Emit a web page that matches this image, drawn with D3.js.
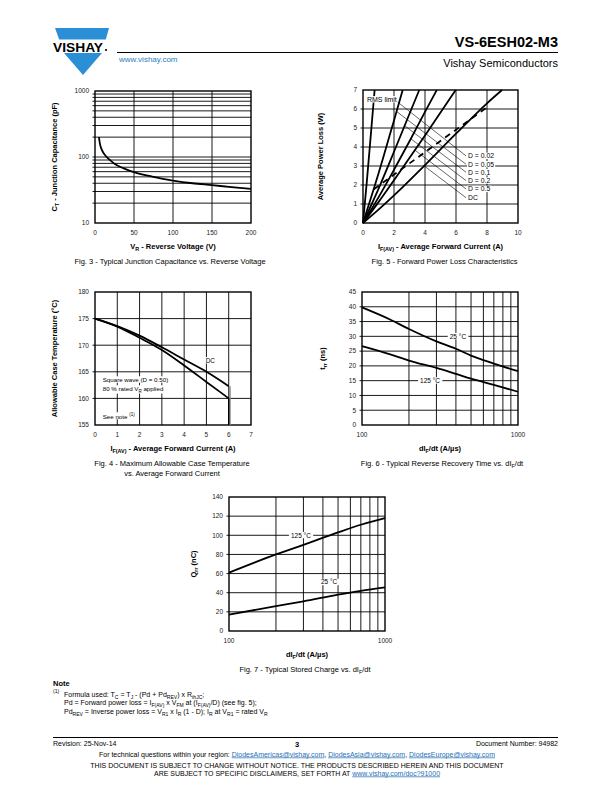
<!DOCTYPE html>
<html><head><meta charset="utf-8">
<script src="https://cdn.jsdelivr.net/npm/d3@7"></script>
<style>
body{margin:0;background:#fff}
svg{display:block}
text{font-family:"Liberation Sans",Arial,Helvetica,sans-serif}
</style>
</head><body>
<svg id="page" width="612" height="792"></svg>
<script>
// ---------------- DATA ----------------
// Fig. 3 - junction capacitance
const fig3Voltage = [5,6.5,8,10,12,15,20,25,30,40,50,75,100,125,150,175,200];
const fig3Capacitance = [200,155,135,120,110,100,88,79,73,65,59,50,44,40,37.5,35,33];
const fig3XTicks = [0,50,100,150,200];
const fig3YTicks = [10,100,1000];

// Fig. 5 - forward power loss (I in A, P in W)
const fig5Labels = ["D = 0.02","D = 0.05","D = 0.1","D = 0.2","D = 0.5","DC"];
const fig5Current = [
  [0,0.25,0.5,0.75],
  [0,1,2,2.56],
  [0,1,2,3,3.63],
  [0,1,2,3,4,4.76],
  [0,1,2,4,5.98],
  [0,1,2,4,6,8,8.97]
];
const fig5Power = [
  [0,2.2,4.6,7],
  [0,2.6,5.4,7],
  [0,1.8,3.75,5.75,7],
  [0,1.35,2.8,4.3,5.85,7],
  [0,1.1,2.25,4.6,7],
  [0,0.7,1.45,3.05,4.7,6.3,7]
];
const fig5RmsCurrent = [0.7,8.1];
const fig5RmsPower = [1.78,6.15];
const fig5LeaderCurrent = [2.15,2.149,2.664,3.036,3.30,3.893];
const fig5LeaderPower = [6.42,5.877,5.137,4.464,3.863,3.038];
const fig5LabelPower = [3.53,3.09,2.67,2.23,1.79,1.33];
const fig5XTicks = [0,2,4,6,8,10];
const fig5YTicks = [0,1,2,3,4,5,6,7];

// Fig. 4 - allowable case temperature
const fig4Current = [0,1,2,3,4,5,6];
const fig4TempDC = [175,173.6,171.8,169.6,167.3,165,162.3];
const fig4TempSquare = [175,173.5,171.4,169.1,166.2,163.1,160];
const fig4XTicks = [0,1,2,3,4,5,6,7];
const fig4YTicks = [155,160,165,170,175,180];

// Fig. 6 - reverse recovery time
const fig6Didt = [100,150,200,300,400,500,700,1000];
const fig6Trr25 = [39.8,35.8,32.5,28.3,25.8,23.5,20.8,18.2];
const fig6Trr125 = [26.7,24.0,21.8,19.3,17.3,15.7,13.6,11.25];
const fig6YTicks = [0,5,10,15,20,25,30,35,40,45];

// Fig. 7 - stored charge
const fig7Didt = [100,200,300,500,700,1000];
const fig7Qrr125 = [61,80,90,103,111,118];
const fig7Qrr25 = [17,26,31,38,42,45.5];
const fig7YTicks = [0,20,40,60,80,100,120,140];

const logXTicks = [100,1000];
const logGrid = [200,300,400,500,600,700,800,900];

// ---------------- HELPERS ----------------
const svg = d3.select('#page');

function rich(parent, x, y, parts, o) {
  const t = parent.append('text').attr('x', x).attr('y', y)
    .attr('font-size', o.size).attr('font-weight', o.bold ? 'bold' : 'normal')
    .attr('text-anchor', o.anchor || 'start').attr('fill', o.fill || '#000');
  if (o.rotate) t.attr('transform', `rotate(-90,${x},${y})`);
  let shift = 0;
  parts.forEach(p => {
    const s = p[0], m = p[1];
    const target = m === 'sub' ? o.size * 0.3 : m === 'sup' ? -o.size * 0.4 : 0;
    const ts = t.append('tspan').attr('dy', (target - shift).toFixed(2)).text(s);
    if (m) ts.attr('font-size', (o.size * 0.72).toFixed(2));
    shift = target;
  });
  return t;
}

function whiteBehind(parent, t, pad) {
  const bb = t.node().getBBox();
  parent.insert('rect', () => t.node()).attr('x', bb.x - pad).attr('y', bb.y + 0.3)
    .attr('width', bb.width + 2 * pad).attr('height', bb.height - 0.6).attr('fill', '#fff');
}

function panel(c) {
  const [L, R, T, B] = c.box;
  const g = svg.append('g');
  const x = (c.xLog ? d3.scaleLog() : d3.scaleLinear()).domain(c.xDomain).range([L, R]);
  const y = (c.yLog ? d3.scaleLog() : d3.scaleLinear()).domain(c.yDomain).range([B, T]);
  g.selectAll(null).data(c.xGrid).join('line')
    .attr('x1', d => x(d)).attr('x2', d => x(d)).attr('y1', T).attr('y2', B)
    .attr('stroke', '#000').attr('stroke-width', 0.9);
  g.selectAll(null).data(c.yGrid).join('line')
    .attr('x1', L - 2.5).attr('x2', R).attr('y1', d => y(d)).attr('y2', d => y(d))
    .attr('stroke', '#000').attr('stroke-width', 0.9);
  g.append('rect').attr('x', L).attr('y', T).attr('width', R - L).attr('height', B - T)
    .attr('fill', 'none').attr('stroke', '#000').attr('stroke-width', 1.4);
  g.selectAll(null).data(c.xTicks).join('text')
    .attr('x', d => x(d)).attr('y', B + 12).attr('text-anchor', 'middle')
    .attr('font-size', 6.5).attr('fill', '#222').text(d => d);
  g.selectAll(null).data(c.yTicks).join('text')
    .attr('x', L - 6).attr('y', d => y(d) + 2.3).attr('text-anchor', 'end')
    .attr('font-size', 6.5).attr('fill', '#222').text(d => d);
  const cx = (L + R) / 2;
  rich(g, cx, B + 26, c.xTitle, {size: 7.5, bold: true, anchor: 'middle'});
  rich(g, L - c.yTitleOff, (T + B) / 2, c.yTitle, {size: 7.5, bold: true, anchor: 'middle', rotate: true});
  c.caption.forEach((line, i) => rich(g, cx + (c.capShift || 0), B + 41 + i * 10, line, {size: 7.5, anchor: 'middle'}));
  return {g, x, y};
}

function curve(p, xs, ys, w, stroke) {
  const line = d3.line().x(d => p.x(d[0])).y(d => p.y(d[1])).curve(d3.curveMonotoneX);
  p.g.append('path').datum(xs.map((v, i) => [v, ys[i]])).attr('d', line)
    .attr('fill', 'none').attr('stroke', stroke || '#000').attr('stroke-width', w || 1.8)
    .attr('stroke-linejoin', 'round');
}

function boxLabel(p, xv, yv, txt, size) {
  const t = p.g.append('text').attr('x', p.x(xv)).attr('y', p.y(yv) + size * 0.35)
    .attr('text-anchor', 'middle').attr('font-size', size).text(txt);
  whiteBehind(p.g, t, 2);
}

// ---------------- HEADER ----------------
const blue = '#2a8fd4';
svg.append('polygon').attr('points', '55,28 109,28 102,53 83,75 64,53').attr('fill', blue);
svg.append('rect').attr('x', 50).attr('y', 39.5).attr('width', 62).attr('height', 13.5).attr('fill', '#fff');
svg.append('text').attr('x', 53).attr('y', 51.5).attr('font-size', 12.5).attr('font-weight', 'bold')
  .attr('textLength', 50).attr('lengthAdjust', 'spacingAndGlyphs').text('VISHAY');
svg.append('circle').attr('cx', 106).attr('cy', 50).attr('r', 1.1).attr('fill', '#000');
svg.append('line').attr('x1', 117).attr('x2', 558).attr('y1', 52.5).attr('y2', 52.5).attr('stroke', '#000').attr('stroke-width', 1);
svg.append('text').attr('x', 558).attr('y', 47).attr('text-anchor', 'end').attr('font-size', 14.5)
  .attr('font-weight', 'bold').text('VS-6ESH02-M3');
svg.append('text').attr('x', 558).attr('y', 67).attr('text-anchor', 'end').attr('font-size', 11).text('Vishay Semiconductors');
svg.append('text').attr('x', 119).attr('y', 61.5).attr('font-size', 8).attr('fill', '#2a7fc1').text('www.vishay.com');

// ---------------- FIG 3 ----------------
const p3 = panel({
  box: [95, 251, 91, 223], xDomain: [0, 200], yDomain: [10, 1000], yLog: true,
  xGrid: [50, 100, 150], yGrid: [20,30,40,50,60,70,80,90,100,200,300,400,500,600,700,800,900],
  xTicks: fig3XTicks, yTicks: fig3YTicks,
  xTitle: [['V'], ['R', 'sub'], [' - Reverse Voltage (V)']],
  yTitle: [['C'], ['T', 'sub'], [' - Junction Capacitance (pF)']], yTitleOff: 38,
  caption: [[['Fig. 3 - Typical Junction Capacitance vs. Reverse Voltage']]], capShift: -3
});
curve(p3, fig3Voltage, fig3Capacitance);

// ---------------- FIG 5 ----------------
const p5 = panel({
  box: [363, 518, 90, 223], xDomain: [0, 10], yDomain: [0, 7],
  xGrid: [2, 4, 6, 8], yGrid: [1, 2, 3, 4, 5, 6],
  xTicks: fig5XTicks, yTicks: fig5YTicks,
  xTitle: [['I'], ['F(AV)', 'sub'], [' - Average Forward Current (A)']],
  yTitle: [['Average Power Loss (W)']], yTitleOff: 40,
  caption: [[['Fig. 5 - Forward Power Loss Characteristics']]], capShift: 4
});
const lineLin = d3.line().x(d => p5.x(d[0])).y(d => p5.y(d[1])).curve(d3.curveMonotoneX);
fig5Current.forEach((xs, i) => {
  p5.g.append('path').datum(xs.map((v, j) => [v, fig5Power[i][j]])).attr('d', lineLin)
    .attr('fill', 'none').attr('stroke', '#000').attr('stroke-width', 1.8);
});
p5.g.append('path').datum(fig5RmsCurrent.map((v, i) => [v, fig5RmsPower[i]]))
  .attr('d', d3.line().x(d => p5.x(d[0])).y(d => p5.y(d[1])))
  .attr('fill', 'none').attr('stroke', '#000').attr('stroke-width', 1.8).attr('stroke-dasharray', '6,5');
const labelX = p5.x(6.65);
fig5Labels.forEach((lab, i) => {
  p5.g.append('line').attr('x1', p5.x(fig5LeaderCurrent[i])).attr('y1', p5.y(fig5LeaderPower[i]))
    .attr('x2', labelX).attr('y2', p5.y(fig5LabelPower[i])).attr('stroke', '#000').attr('stroke-width', 0.6);
});
fig5Labels.forEach((lab, i) => {
  const t = p5.g.append('text').attr('x', labelX + 2).attr('y', p5.y(fig5LabelPower[i]) + 2.4)
    .attr('font-size', 6.8).text(lab);
  whiteBehind(p5.g, t, 1);
});
{
  const t = p5.g.append('text').attr('x', p5.x(0.25)).attr('y', p5.y(6.5) + 2.3).attr('font-size', 7).text('RMS limit');
  whiteBehind(p5.g, t, 1);
}

// ---------------- FIG 4 ----------------
const p4 = panel({
  box: [95, 251, 292, 425], xDomain: [0, 7], yDomain: [155, 180],
  xGrid: [1, 2, 3, 4, 5, 6], yGrid: [160, 165, 170, 175],
  xTicks: fig4XTicks, yTicks: fig4YTicks,
  xTitle: [['I'], ['F(AV)', 'sub'], [' - Average Forward Current (A)']],
  yTitle: [['Allowable Case Temperature (°C)']], yTitleOff: 38,
  caption: [[['Fig. 4 - Maximum Allowable Case Temperature']], [['vs. Average Forward Current']]], capShift: -1
});
p4.g.append('line').attr('x1', p4.x(6) + 1.2).attr('x2', p4.x(6) + 1.2)
  .attr('y1', p4.y(fig4TempDC[6])).attr('y2', p4.y(155)).attr('stroke', '#888').attr('stroke-width', 1.6);
p4.g.append('line').attr('x1', p4.x(6)).attr('x2', p4.x(6))
  .attr('y1', p4.y(fig4TempSquare[6])).attr('y2', p4.y(155)).attr('stroke', '#000').attr('stroke-width', 1.4);
curve(p4, fig4Current, fig4TempDC);
curve(p4, fig4Current, fig4TempSquare);
{
  const a = p4.g.append('text').attr('x', p4.x(4.97)).attr('y', p4.y(166.7)).attr('font-size', 6.4).text('DC');
  whiteBehind(p4.g, a, 1);
  const b = p4.g.append('text').attr('x', 102.7).attr('y', 382).attr('font-size', 6.2).text('Square wave (D = 0.50)');
  whiteBehind(p4.g, b, 1);
  const c = rich(p4.g, 102.7, 391, [['80 % rated V'], ['R', 'sub'], [' applied']], {size: 6.2});
  whiteBehind(p4.g, c, 1);
  const d = rich(p4.g, 102.7, 418.5, [['See note '], ['(1)', 'sup']], {size: 6.2});
  whiteBehind(p4.g, d, 1);
}

// ---------------- FIG 6 ----------------
const p6 = panel({
  box: [362, 518, 292, 425], xDomain: [100, 1000], xLog: true, yDomain: [0, 45],
  xGrid: logGrid, yGrid: [5, 10, 15, 20, 25, 30, 35, 40],
  xTicks: logXTicks, yTicks: fig6YTicks,
  xTitle: [['dI'], ['F', 'sub'], ['/dt (A/µs)']],
  yTitle: [['t'], ['rr', 'sub'], [' (ns)']], yTitleOff: 37,
  caption: [[['Fig. 6 - Typical Reverse Recovery Time vs. dI'], ['F', 'sub'], ['/dt']]],
  capShift: 2
});
curve(p6, fig6Didt, fig6Trr25);
curve(p6, fig6Didt, fig6Trr125);
boxLabel(p6, 412, 30, '25 °C', 6.5);
boxLabel(p6, 273, 15, '125 °C', 6.5);

// ---------------- FIG 7 ----------------
const p7 = panel({
  box: [229, 385, 497, 631], xDomain: [100, 1000], xLog: true, yDomain: [0, 140],
  xGrid: logGrid, yGrid: [20, 40, 60, 80, 100, 120],
  xTicks: logXTicks, yTicks: fig7YTicks,
  xTitle: [['dI'], ['F', 'sub'], ['/dt (A/µs)']],
  yTitle: [['Q'], ['rr', 'sub'], [' (nC)']], yTitleOff: 33,
  caption: [[['Fig. 7 - Typical Stored Charge vs. dI'], ['F', 'sub'], ['/dt']]],
  capShift: -2
});
curve(p7, fig7Didt, fig7Qrr125);
curve(p7, fig7Didt, fig7Qrr25);
boxLabel(p7, 289, 100, '125 °C', 6.5);
boxLabel(p7, 438, 51, '25 °C', 6.5);

// ---------------- NOTE ----------------
svg.append('text').attr('x', 53).attr('y', 685.5).attr('font-size', 7.5).attr('font-weight', 'bold').text('Note');
rich(svg, 53, 696, [['(1)', 'sup']], {size: 7});
rich(svg, 64, 697, [['Formula used: T'], ['C', 'sub'], [' = T'], ['J', 'sub'], [' - (Pd + Pd'], ['REV', 'sub'], [') x R'], ['thJC', 'sub'], [';']], {size: 7});
rich(svg, 64, 705, [['Pd = Forward power loss = I'], ['F(AV)', 'sub'], [' x V'], ['FM', 'sub'], [' at (I'], ['F(AV)', 'sub'], ['/D) (see fig. 5);']], {size: 7});
rich(svg, 64, 713.5, [['Pd'], ['REV', 'sub'], [' = Inverse power loss = V'], ['R1', 'sub'], [' x I'], ['R', 'sub'], [' (1 - D); I'], ['R', 'sub'], [' at V'], ['R1', 'sub'], [' = rated V'], ['R', 'sub']], {size: 7});

// ---------------- FOOTER ----------------
svg.append('line').attr('x1', 53).attr('x2', 558).attr('y1', 737.5).attr('y2', 737.5).attr('stroke', '#000').attr('stroke-width', 1);
svg.append('text').attr('x', 53).attr('y', 746).attr('font-size', 7).text('Revision: 25-Nov-14');
svg.append('text').attr('x', 297).attr('y', 747).attr('font-size', 7.5).attr('font-weight', 'bold').attr('text-anchor', 'middle').text('3');
svg.append('text').attr('x', 558).attr('y', 746).attr('font-size', 7).attr('text-anchor', 'end').text('Document Number: 94982');
{
  const t = svg.append('text').attr('x', 297).attr('y', 756.5).attr('font-size', 7).attr('text-anchor', 'middle');
  const link = '#1f6fb5';
  t.append('tspan').text('For technical questions within your region: ');
  t.append('tspan').attr('fill', link).attr('text-decoration', 'underline').text('DiodesAmericas@vishay.com');
  t.append('tspan').text(', ');
  t.append('tspan').attr('fill', link).attr('text-decoration', 'underline').text('DiodesAsia@vishay.com');
  t.append('tspan').text(', ');
  t.append('tspan').attr('fill', link).attr('text-decoration', 'underline').text('DiodesEurope@vishay.com');
}
svg.append('text').attr('x', 297).attr('y', 767.5).attr('font-size', 7).attr('text-anchor', 'middle')
  .text('THIS DOCUMENT IS SUBJECT TO CHANGE WITHOUT NOTICE. THE PRODUCTS DESCRIBED HEREIN AND THIS DOCUMENT');
{
  const t = svg.append('text').attr('x', 297).attr('y', 775.5).attr('font-size', 7).attr('text-anchor', 'middle');
  t.append('tspan').text('ARE SUBJECT TO SPECIFIC DISCLAIMERS, SET FORTH AT ');
  t.append('tspan').attr('fill', '#1f6fb5').attr('text-decoration', 'underline').text('www.vishay.com/doc?91000');
}
</script>
</body></html>
